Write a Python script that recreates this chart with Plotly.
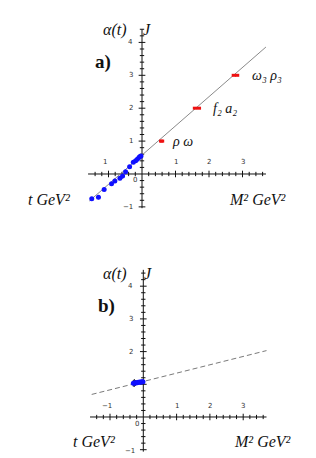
import numpy as np
import plotly.graph_objects as go

# ---------------- data ----------------
# panel a) : Regge trajectory of rho/omega family
a_blue_t = [-1.50, -1.30, -1.13, -0.91, -0.81, -0.66, -0.58, -0.49, -0.37, -0.26, -0.19, -0.14, -0.09, -0.06, -0.03]
a_blue_alpha = [-0.75, -0.71, -0.47, -0.30, -0.21, -0.13, -0.06, 0.07, 0.22, 0.36, 0.40, 0.45, 0.50, 0.53, 0.55]
a_blue_err = [0.05, 0.06, 0.05, 0.05, 0.07, 0.06, 0.08, 0.05, 0.05, 0.04, 0.04, 0.03, 0.03, 0.03, 0.03]
a_red_m2 = [0.57, 0.60, 1.58, 1.70, 2.74, 2.84]
a_red_J = [1, 1, 2, 2, 3, 3]
a_traj_t = [-1.57, 3.70]
a_traj_alpha = [-0.82, 3.86]
a_state_labels = ["ρ ω", "f₂ a₂", "ω₃ ρ₃"]
a_state_t = [0.84, 2.06, 3.22]
a_state_J = [1, 2, 3]

# panel b) : pomeron trajectory
b_blue_t = [-0.30, -0.27, -0.24, -0.21, -0.18, -0.15, -0.12, -0.09, -0.06, -0.03, -0.01]
b_blue_alpha = [1.03, 1.04, 1.04, 1.05, 1.05, 1.06, 1.06, 1.07, 1.07, 1.08, 1.08]
b_blue_err = [0.10, 0.12, 0.09, 0.06, 0.04, 0.03, 0.03, 0.02, 0.02, 0.02, 0.02]
b_traj_t = [-1.55, 3.70]
b_traj_alpha = [0.69, 2.03]

x_tick_labels_a = ["1", "1", "2", "3"]
x_tick_labels_b = ["−1", "1", "2", "3"]
x_tick_vals = [-1, 1, 2, 3]
y_tick_labels = ["4", "3", "2", "1"]
y_tick_vals = [4, 3, 2, 1]

fig = go.Figure()

AX = dict(color="#111111", width=1)
TICKFONT = dict(family="DejaVu Sans", size=7, color="#333333")
LBLFONT = dict(family="Liberation Serif", size=16, color="#111111")
STATEFONT = dict(family="Liberation Serif", size=14, color="#111111")


def add_axes(xa, ya, x_lo, x_hi, y_lo, y_hi):
    # axis cross lines
    fig.add_trace(go.Scatter(x=[x_lo, x_hi, None, 0, 0], y=[0, 0, None, y_lo, y_hi],
                             mode="lines", line=AX, xaxis=xa, yaxis=ya,
                             hoverinfo="skip", showlegend=False))
    xs, ys = [], []
    for v in np.round(np.arange(-1.4, 3.61, 0.2), 2):
        if abs(v) < 1e-9:
            continue
        h = 0.10 if abs(v - round(v)) < 1e-6 else 0.065
        xs += [v, v, None]
        ys += [-h, h, None]
    for v in np.round(np.arange(-1.0, 4.41, 0.2), 2):
        if abs(v) < 1e-9:
            continue
        w = 0.10 if abs(v - round(v)) < 1e-6 else 0.065
        xs += [-w, w, None]
        ys += [v, v, None]
    fig.add_trace(go.Scatter(x=xs, y=ys, mode="lines", line=AX, xaxis=xa, yaxis=ya,
                             hoverinfo="skip", showlegend=False))


# ---------------- panel a ----------------
add_axes("x", "y", -1.61, 3.70, -1.04, 4.40)
fig.add_trace(go.Scatter(x=a_traj_t, y=a_traj_alpha, mode="lines",
                         line=dict(color="#8a8a8a", width=1), xaxis="x", yaxis="y",
                         showlegend=False))
fig.add_trace(go.Scatter(x=a_blue_t, y=a_blue_alpha, mode="markers",
                         marker=dict(color="#1010ff", size=5),
                         error_y=dict(type="data", array=a_blue_err, color="#555555",
                                      thickness=1, width=0),
                         xaxis="x", yaxis="y", showlegend=False))
fig.add_trace(go.Scatter(x=a_red_m2, y=a_red_J, mode="markers",
                         marker=dict(symbol="line-ew", size=3,
                                     line=dict(color="#ee1111", width=3)),
                         xaxis="x", yaxis="y", showlegend=False))

# ---------------- panel b ----------------
add_axes("x2", "y2", -1.6, 3.70, -1.06, 4.50)
fig.add_trace(go.Scatter(x=b_traj_t, y=b_traj_alpha, mode="lines",
                         line=dict(color="#7a7a7a", width=1, dash="5px,3px"),
                         xaxis="x2", yaxis="y2", showlegend=False))
fig.add_trace(go.Scatter(x=b_blue_t, y=b_blue_alpha, mode="markers",
                         marker=dict(color="#1010ff", size=5),
                         error_y=dict(type="data", array=b_blue_err, color="#111111",
                                      thickness=1, width=0),
                         xaxis="x2", yaxis="y2", showlegend=False))

ann = []


def txt(xr, yr, x, y, s, font, xanchor="center"):
    ann.append(dict(x=x, y=y, xref=xr, yref=yr, text=s, showarrow=False,
                    font=font, xanchor=xanchor, yanchor="middle"))


ital = "<i>%s</i>"
# panel a texts
for v, s in zip(x_tick_vals, x_tick_labels_a):
    txt("x", "y", v - (0.1 if v < 0 else 0), 0.36, s, TICKFONT)
for v, s in zip(y_tick_vals, y_tick_labels):
    txt("x", "y", -0.33, v, s, TICKFONT)
txt("x", "y", -0.21, -0.18, "0", TICKFONT)
txt("x", "y", -0.42, -1.0, "−1", TICKFONT)
txt("x", "y", -0.81, 4.38, ital % "α(t)", LBLFONT)
txt("x", "y", 0.15, 4.38, ital % "J", LBLFONT)
txt("x", "y", -1.16, 3.40, "<b>a)</b>", dict(family="Liberation Serif", size=19, color="#111111"))
txt("x", "y", -2.75, -0.79, ital % "t GeV²", LBLFONT)
txt("x", "y", 3.46, -0.79, ital % "M² GeV²", LBLFONT)
for s, t, j in zip(a_state_labels, a_state_t, a_state_J):
    txt("x", "y", t, j, ital % s, STATEFONT, xanchor="left")

# panel b texts
for v, s in zip(x_tick_vals, x_tick_labels_b):
    txt("x2", "y2", v - (0.1 if v < 0 else 0), 0.35, s, TICKFONT)
for v, s in zip(y_tick_vals[:3], y_tick_labels[:3]):
    txt("x2", "y2", -0.37, v, s, TICKFONT)
txt("x2", "y2", -0.19, -0.21, "0", TICKFONT)
txt("x2", "y2", -0.40, -1.03, "−1", TICKFONT)
txt("x2", "y2", -0.85, 4.38, ital % "α(t)", LBLFONT)
txt("x2", "y2", 0.13, 4.38, ital % "J", LBLFONT)
txt("x2", "y2", -1.12, 3.39, "<b>b)</b>", dict(family="Liberation Serif", size=19, color="#111111"))
txt("x2", "y2", -1.48, -0.76, ital % "t GeV²", LBLFONT)
txt("x2", "y2", 3.59, -0.76, ital % "M² GeV²", LBLFONT)

# page body has an 8px margin: figure covers window pixels 8..316 x 8..458
hidden = dict(visible=False, showgrid=False, zeroline=False, fixedrange=True)
fig.update_layout(
    width=308, height=450,
    margin=dict(l=0, r=0, t=0, b=0),
    paper_bgcolor="white", plot_bgcolor="white",
    annotations=ann,
    xaxis=dict(range=[-4.0, 5.194], domain=[0, 1], anchor="y", **hidden),
    yaxis=dict(range=[-1.672, 5.046], domain=[0.5089, 1], anchor="x", **hidden),
    xaxis2=dict(range=[-4.063, 5.186], domain=[0, 1], anchor="y2", **hidden),
    yaxis2=dict(range=[-1.254, 5.749], domain=[0, 0.5089], anchor="x2", **hidden),
)

fig.write_html("out.html")
